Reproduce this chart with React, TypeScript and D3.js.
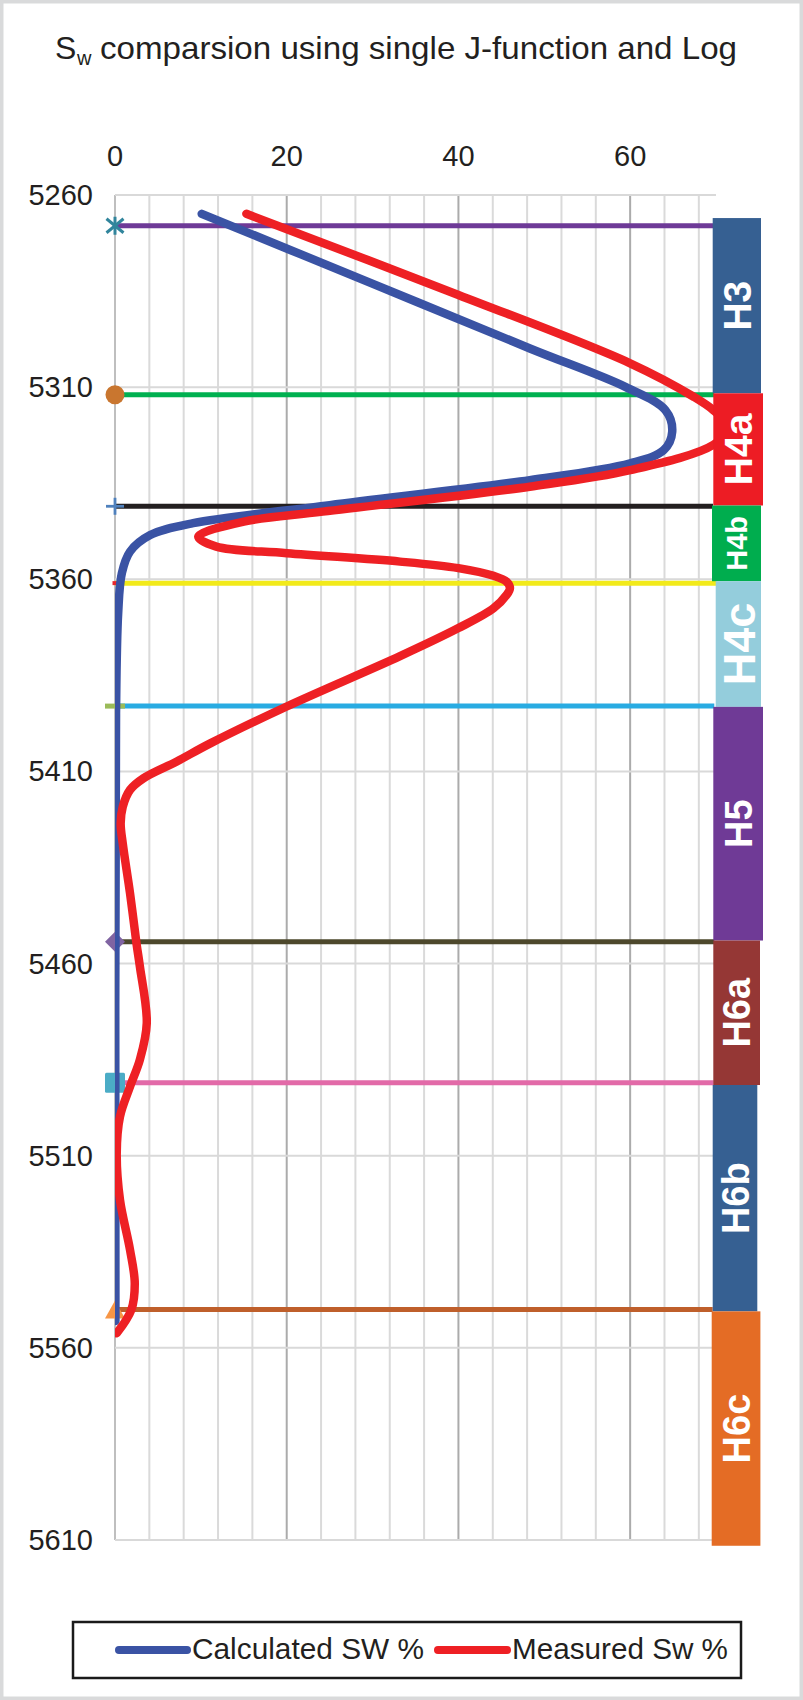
import React from 'react';
import * as d3 from 'd3';

const W = 803;
const H = 1700;

// ---- data ----
const xTicks = [0, 20, 40, 60];
const yTicks = [5260, 5310, 5360, 5410, 5460, 5510, 5560, 5610];

const calcDepth = [5264.9, 5283, 5300, 5310, 5316, 5321.6, 5326.4, 5329.8, 5334.2, 5340.7, 5345.4, 5348.5, 5352.8, 5358.4, 5368.8, 5395, 5553];
const calcSw = [10.1, 29.9, 48.4, 59.5, 64.1, 64.9, 63.9, 60, 48.3, 25, 9.1, 4.1, 1.75, 0.8, 0.37, 0.12, 0.05];

const measDepth = [5264.9, 5286, 5303.8, 5312.5, 5316, 5320.5, 5325, 5331.6, 5335.9, 5342.4, 5345, 5348.9, 5351.5, 5353.2, 5355.4, 5357.1, 5359.1, 5360.6, 5362.3, 5364.1, 5367.5, 5372.7, 5380, 5393.1, 5402.7, 5407.4, 5411.8, 5414.8, 5419.2, 5423.5, 5428.7, 5441.7, 5454.7, 5460.8, 5475.5, 5485, 5492, 5499.8, 5509.4, 5521.5, 5534.5, 5543.2, 5550.1, 5556.2];
const measSw = [15.3, 40, 60, 67.4, 69.7, 71.5, 69.7, 60, 48.3, 24.2, 15, 9.7, 11.8, 20, 33.2, 40, 44.1, 45.6, 46, 45.6, 44.1, 40, 33.2, 20, 11.1, 7.2, 3.3, 1.75, 0.9, 0.66, 0.9, 1.75, 2.5, 2.9, 3.7, 2.9, 1.75, 0.58, 0.2, 0.58, 1.75, 2.3, 1.9, 0.2];

const zoneNames = ['H3', 'H4a', 'H4b', 'H4c', 'H5', 'H6a', 'H6b', 'H6c'];
const zoneTopDepth = [5268, 5312, 5341, 5361, 5393, 5454.3, 5491, 5550];
const zoneBarTop = [5266, 5311.6, 5340.8, 5360.5, 5393.2, 5454, 5491.6, 5550.5];
const zoneBarBase = 5611.5;

const seriesNames = ['Calculated SW %', 'Measured Sw %'];

// ---- styles ----
const zoneLineColor = ['#6E3A97', '#00B050', '#231F20', '#F2EA1A', '#29ABE2', '#4D482C', '#E26AA8', '#BF5F2B'];
const zoneBarColor = ['#366092', '#ED1C24', '#00AD4E', '#94CDDC', '#6F3A96', '#953735', '#366092', '#E46C25'];
const zoneFont = [39, 39, 29, 45, 38, 38, 38, 38];
const zoneBarX: [number, number][] = [[712.7, 761], [713.3, 763], [712, 761], [715.7, 761], [713.3, 763], [713.3, 760], [712.7, 757.3], [711.7, 760.4]];
const markerType = ['asterisk', 'circle', 'plus', 'dashS', 'dashL', 'diamond', 'square', 'triangle'];
const markerColor = ['#31859C', '#C9762F', '#4F81BD', '#E8262B', '#9BBB59', '#8064A2', '#4BACC6', '#F79646'];
const seriesColor = ['#3A53A4', '#EE2024'];

const FONT = "'Liberation Sans', Arial, Helvetica, sans-serif";
const TXT = '#231F20';

const x = d3.scaleLinear().domain([0, 70]).range([115, 716]);
const y = d3.scaleLinear().domain([5260, 5610]).range([195, 1540]);

function Marker({ type, cx, cy, color }: { type: string; cx: number; cy: number; color: string }) {
  switch (type) {
    case 'asterisk':
      return (
        <g stroke={color} strokeWidth={3}>
          <line x1={cx} y1={cy - 9} x2={cx} y2={cy + 9} />
          <line x1={cx - 8.5} y1={cy - 7} x2={cx + 8.5} y2={cy + 7} />
          <line x1={cx - 8.5} y1={cy + 7} x2={cx + 8.5} y2={cy - 7} />
        </g>
      );
    case 'circle':
      return <circle cx={cx} cy={cy} r={9.5} fill={color} />;
    case 'plus':
      return (
        <g stroke={color} strokeWidth={2.8}>
          <line x1={cx - 9} y1={cy} x2={cx + 9} y2={cy} />
          <line x1={cx} y1={cy - 8.5} x2={cx} y2={cy + 8.5} />
        </g>
      );
    case 'dashS':
      return <line x1={cx - 2.5} y1={cy} x2={cx + 6} y2={cy} stroke={color} strokeWidth={4} />;
    case 'dashL':
      return <line x1={cx - 10} y1={cy} x2={cx + 10} y2={cy} stroke={color} strokeWidth={5} />;
    case 'diamond':
      return <path d={`M${cx - 10},${cy}L${cx},${cy - 10}L${cx + 10},${cy}L${cx},${cy + 10}Z`} fill={color} />;
    case 'square':
      return <rect x={cx - 10} y={cy - 10} width={20} height={20} rx={1.5} fill={color} />;
    case 'triangle':
      return <path d={`M${cx - 10},${cy + 9}L${cx},${cy - 9}L${cx + 10},${cy + 9}Z`} fill={color} />;
    default:
      return null;
  }
}

export default function App() {
  const line = d3
    .line<[number, number]>()
    .x((d) => x(d[1]))
    .y((d) => y(d[0]))
    .curve(d3.curveCatmullRom.alpha(0.5));

  const calcPts = calcDepth.map((d, i) => [d, calcSw[i]] as [number, number]);
  const measPts = measDepth.map((d, i) => [d, measSw[i]] as [number, number]);

  const minor = d3.range(0, 70, 4);
  const [x0, x1] = x.range();
  const [y0, y1] = y.range();

  return (
    <svg
      width={W}
      height={H}
      viewBox={`0 0 ${W} ${H}`}
      style={{ position: 'absolute', left: 0, top: 0, fontFamily: FONT }}
    >
      <defs>
        <clipPath id="plotClip">
          <rect x={x0} y={y0 - 10} width={x1 - x0} height={y1 - y0 + 20} />
        </clipPath>
      </defs>
      <rect x={0} y={0} width={W} height={H} fill="#D9DADB" />
      <rect x={3.5} y={3.5} width={W - 7} height={H - 7} fill="#FFFFFF" />

      {/* title */}
      <text x={55} y={58.5} fontSize={32} fill={TXT}>S</text>
      <text x={77} y={65} fontSize={20} fill={TXT}>w</text>
      <text x={100} y={58.5} fontSize={32} fill={TXT} textLength={637} lengthAdjust="spacingAndGlyphs">
        comparsion using single J-function and Log
      </text>

      {/* gridlines */}
      {minor.map((v) => (
        <line
          key={'v' + v}
          x1={x(v)}
          x2={x(v)}
          y1={y0}
          y2={y1}
          stroke={v === 0 ? '#BFBFBF' : v % 20 === 0 ? '#ABABAB' : '#DADADA'}
          strokeWidth={2}
        />
      ))}
      {yTicks.map((t) => (
        <line key={'h' + t} x1={x0} x2={x1} y1={y(t)} y2={y(t)} stroke="#D9D9D9" strokeWidth={2} />
      ))}

      {/* axis labels */}
      {xTicks.map((t) => (
        <text key={'xt' + t} x={x(t)} y={166} fontSize={29} textAnchor="middle" fill={TXT}>
          {t}
        </text>
      ))}
      {yTicks.map((t) => (
        <text key={'yt' + t} x={93} y={y(t) + 10} fontSize={29} textAnchor="end" fill={TXT}>
          {t}
        </text>
      ))}

      {/* formation top lines */}
      {zoneTopDepth.map((d, i) => (
        <line
          key={'zl' + i}
          x1={x(0)}
          x2={zoneBarX[i][0] + 1}
          y1={y(d)}
          y2={y(d)}
          stroke={zoneLineColor[i]}
          strokeWidth={5}
        />
      ))}
      {zoneTopDepth.map((d, i) => (
        <Marker key={'mk' + i} type={markerType[i]} cx={x(0)} cy={y(d)} color={markerColor[i]} />
      ))}

      {/* curves */}
      <g clipPath="url(#plotClip)" fill="none" strokeLinecap="round" strokeLinejoin="round">
        <path d={line(calcPts) || ''} stroke={seriesColor[0]} strokeWidth={8.5} />
        <path d={line(measPts) || ''} stroke={seriesColor[1]} strokeWidth={8.5} />
      </g>

      {/* zone bars */}
      {zoneNames.map((n, i) => {
        const top = y(zoneBarTop[i]);
        const bot = i < zoneNames.length - 1 ? y(zoneBarTop[i + 1]) : y(zoneBarBase);
        const [bx0, bx1] = zoneBarX[i];
        const cx = (bx0 + bx1) / 2;
        const cy = (top + bot) / 2;
        return (
          <g key={'zb' + n}>
            <rect x={bx0} y={top} width={bx1 - bx0} height={bot - top} fill={zoneBarColor[i]} />
            <text
              transform={`translate(${cx},${cy}) rotate(-90)`}
              dy="0.36em"
              textAnchor="middle"
              fontSize={zoneFont[i]}
              fontWeight="bold"
              fill="#FFFFFF"
            >
              {n}
            </text>
          </g>
        );
      })}

      {/* legend */}
      <rect x={73} y={1622} width={668} height={56} fill="#FFFFFF" stroke="#1A1A1A" strokeWidth={2.5} />
      <line x1={119} x2={187} y1={1650} y2={1650} stroke={seriesColor[0]} strokeWidth={8} strokeLinecap="round" />
      <text x={192} y={1658.5} fontSize={29} fill={TXT} textLength={232} lengthAdjust="spacingAndGlyphs">
        {seriesNames[0]}
      </text>
      <line x1={438} x2={507} y1={1650} y2={1650} stroke={seriesColor[1]} strokeWidth={8} strokeLinecap="round" />
      <text x={512} y={1658.5} fontSize={29} fill={TXT} textLength={216} lengthAdjust="spacingAndGlyphs">
        {seriesNames[1]}
      </text>
    </svg>
  );
}
